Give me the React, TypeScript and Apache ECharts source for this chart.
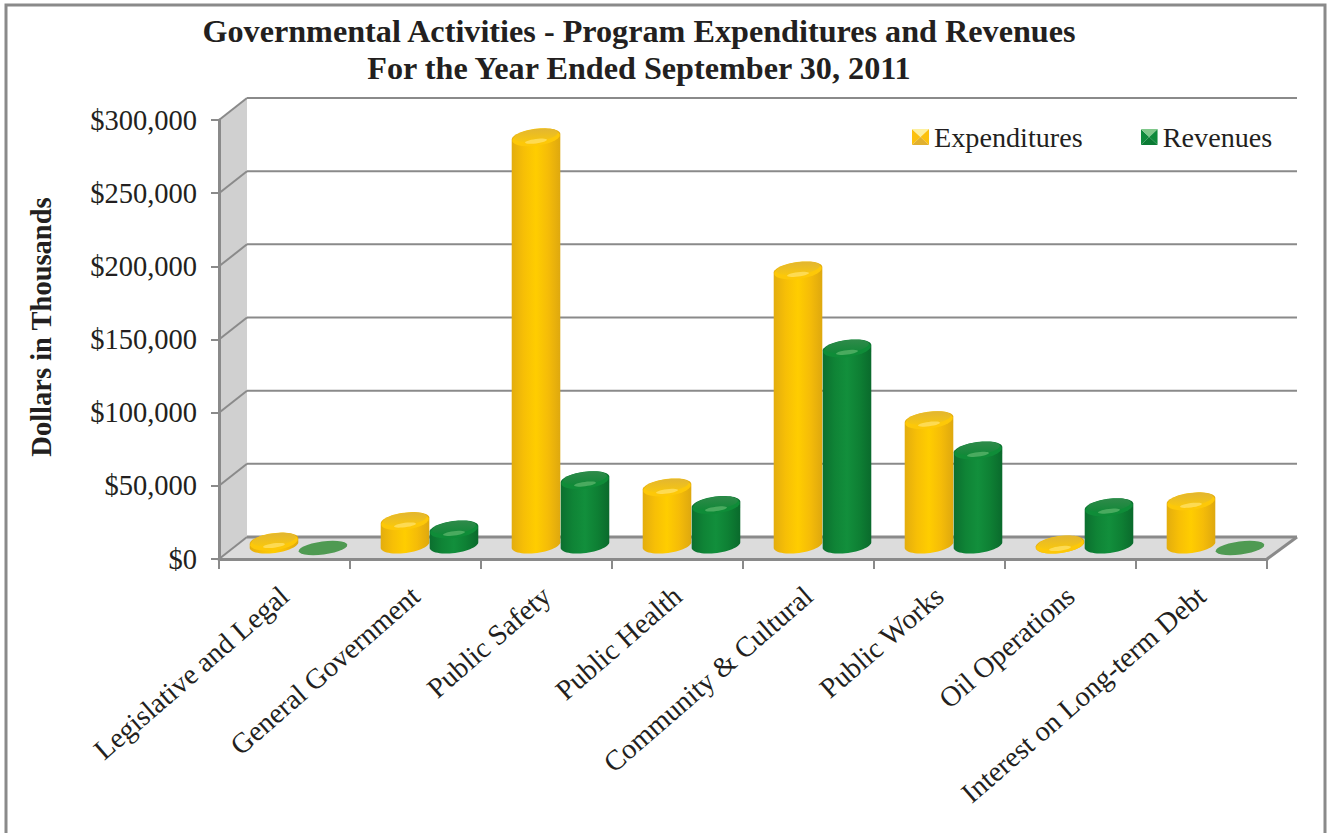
import React, { useEffect, useRef } from "react";
import * as echarts from "echarts";

const categories = ["Legislative and Legal", "General Government", "Public Safety", "Public Health", "Community & Cultural", "Public Works", "Oil Operations", "Interest on Long-term Debt"];
const expenditures = [4700, 18700, 281000, 41700, 190000, 87700, 2700, 32200];
const revenues = [0, 13000, 46700, 29700, 136700, 67000, 28200, 0];
const yTicks = [0, 50000, 100000, 150000, 200000, 250000, 300000];
const titleText = "Governmental Activities - Program Expenditures and Revenues\nFor the Year Ended September 30, 2011";
const FONT = "'Liberation Serif'";
const INK = "#231f20";
const GRID = "#8a8a8a";
const DX = 28, DY = 22;

const ellipse = (cx: number, cy: number, rx: number, ry: number, a0: number, a1: number, rot = -0.13) => {
  const pts: number[][] = [];
  const n = 28;
  for (let i = 0; i <= n; i++) {
    const t = a0 + ((a1 - a0) * i) / n;
    const x = rx * Math.cos(t), y = ry * Math.sin(t);
    pts.push([cx + x * Math.cos(rot) - y * Math.sin(rot), cy + x * Math.sin(rot) + y * Math.cos(rot)]);
  }
  return pts;
};
const hGrad = (stops: string[]) => ({ type: "linear", x: 0, y: 0, x2: 1, y2: 0, colorStops: stops.map((color, i) => ({ offset: i / (stops.length - 1), color })) });
const vGrad = (a: string, b: string) => ({ type: "linear", x: 0, y: 0, x2: 0, y2: 1, colorStops: [{ offset: 0, color: a }, { offset: 1, color: b }] });

const palette = {
  exp: { body: ["#e3ad0e", "#f7bf06", "#ffcd00", "#f5bc08", "#deA80f"], rim: "#fdc808", capA: "#e2b632", capB: "#f8c70e", hi: "#ffe26a", flat: "#e8b820" },
  rev: { body: ["#0b6f2f", "#0f8436", "#128f3c", "#0e8034", "#0a6a2c"], rim: "#0f8c38", capA: "#2f8a4a", capB: "#128838", hi: "#5cb56c", flat: "#4f9a52" },
};

const cylinder = (side: number, p: typeof palette.exp) => (_: any, api: any) => {
  const band = api.size([1, 0])[0];
  const rx = band * 0.187, ry = 8;
  const top = api.coord([api.value(0), api.value(1)]);
  const base = api.coord([api.value(0), 0]);
  const cx = top[0] + DX / 2 + side * rx;
  const yTop = top[1] - DY / 2, yGround = base[1] - DY / 2;
  if (api.value(1) === 0) {
    return { type: "polygon", shape: { points: ellipse(cx, yGround, rx, ry - 1.5, 0, Math.PI * 2) }, style: { fill: p.flat } };
  }
  const yBase = yGround - 3;
  const outline = [...ellipse(cx, yBase, rx, ry, 0, Math.PI), ...ellipse(cx, Math.min(yTop, yBase), rx, ry, Math.PI, Math.PI * 2)];
  return {
    type: "group",
    children: [
      { type: "polygon", shape: { points: outline }, style: { fill: hGrad(p.body) } },
      { type: "polygon", shape: { points: ellipse(cx, yTop + 1, rx * 0.98, ry, 0, Math.PI * 2) }, style: { fill: p.rim } },
      { type: "polygon", shape: { points: ellipse(cx, yTop - 1.5, rx * 0.9, ry * 0.78, 0, Math.PI * 2) }, style: { fill: vGrad(p.capA, p.capB) } },
      { type: "polygon", shape: { points: ellipse(cx, yTop + ry * 0.55, rx * 0.45, 2.2, 0, Math.PI * 2) }, style: { fill: p.hi, opacity: 0.75 } },
    ],
  };
};

const walls = (_: any, api: any) => {
  const v = api.value(1);
  const band = api.size([1, 0])[0];
  const p = api.coord([0, v]);
  const left = p[0] - band / 2;
  const right = left + band * categories.length;
  const y = p[1];
  const line = { stroke: GRID, lineWidth: 2 };
  const children: any[] = [];
  if (v === 0) {
    const yMax = api.coord([0, yTicks[yTicks.length - 1]])[1];
    children.push({ type: "polygon", shape: { points: [[left, yMax], [left + DX, yMax - DY], [left + DX, y - DY], [left, y]] }, style: { fill: "#d0d0d0" } });
    children.push({ type: "polygon", shape: { points: [[left, y], [left + DX, y - DY], [right + DX + 2, y - DY], [right, y]] }, style: { fill: "#dcdcdc" } });
    children.push({ type: "line", shape: { x1: right, y1: y, x2: right + DX + 2, y2: y - DY }, style: { stroke: GRID, lineWidth: 3 } });
  }
  children.push({ type: "line", shape: { x1: left, y1: y, x2: left + DX, y2: y - DY }, style: line });
  children.push({ type: "line", shape: { x1: left + DX, y1: y - DY, x2: right + DX + 2, y2: y - DY }, style: { stroke: GRID, lineWidth: v === 0 ? 3 : 2 } });
  return { type: "group", children };
};

const pyramidIcon = (l: string, t: string, r: string, b: string, w: number, h: number) =>
  "image://data:image/svg+xml;charset=utf-8," + encodeURIComponent(
    `<svg xmlns="http://www.w3.org/2000/svg" width="${w}" height="${h}" viewBox="0 0 ${w} ${h}">` +
    `<polygon points="0,0 ${w / 2},${h / 2} 0,${h}" fill="${l}"/><polygon points="0,0 ${w},0 ${w / 2},${h / 2}" fill="${t}"/>` +
    `<polygon points="${w},0 ${w},${h} ${w / 2},${h / 2}" fill="${r}"/><polygon points="0,${h} ${w},${h} ${w / 2},${h / 2}" fill="${b}"/></svg>`);

export default function App() {
  const ref = useRef<HTMLDivElement>(null);
  useEffect(() => {
    const chart = echarts.init(ref.current!, undefined, { renderer: "svg" });
    chart.setOption({
      animation: false,
      backgroundColor: "#ffffff",
      title: {
        text: titleText, left: 634, top: 7, textAlign: "center",
        textStyle: { fontFamily: FONT, fontWeight: "bold", fontSize: 32.2, lineHeight: 37, color: INK },
      },
      legend: {
        left: 912, top: 123, padding: 0, itemWidth: 17, itemHeight: 16, itemGap: 58,
        textStyle: { fontFamily: FONT, fontSize: 28.2, color: INK },
        data: [
          { name: "Expenditures", icon: pyramidIcon("#fcc10e", "#fdf0a0", "#fcc10e", "#e0b030", 17, 16) },
          { name: "Revenues", icon: pyramidIcon("#0f8a3c", "#7fc88a", "#0f8a3c", "#0b7a34", 17, 16) },
        ],
      },
      grid: { left: 219, right: 61, top: 120, bottom: 274, containLabel: false },
      xAxis: {
        type: "category", data: categories, z: 3,
        axisLine: { lineStyle: { color: GRID, width: 3 } },
        axisTick: { show: true, length: 10, lineStyle: { color: GRID, width: 2 } },
        axisLabel: { interval: 0, rotate: 41, margin: 33, fontFamily: FONT, fontSize: 28.5, color: INK },
      },
      yAxis: {
        type: "value", min: 0, max: 300000, interval: 50000, z: 3,
        axisLine: { show: true, lineStyle: { color: GRID, width: 3 } },
        axisTick: { show: true, length: 8, lineStyle: { color: GRID, width: 2 } },
        splitLine: { show: false },
        axisLabel: { margin: 22, fontFamily: FONT, fontSize: 28.5, color: INK, formatter: (v: number) => "$" + v.toLocaleString("en-US") },
      },
      graphic: [
        { type: "rect", z: 0, silent: true, shape: { x: 6, y: 5, width: 1319, height: 900 }, style: { fill: "none", stroke: GRID, lineWidth: 3 } },
        { type: "text", x: 41, y: 327, rotation: Math.PI / 2, style: { text: "Dollars in Thousands", fontFamily: FONT, fontWeight: "bold", fontSize: 28.5, fill: INK, textAlign: "center", textVerticalAlign: "middle" } },
      ],
      series: [
        { type: "custom", name: "walls", z: 1, silent: true, clip: false, renderItem: walls, encode: { x: 0, y: 1 }, data: yTicks.map((v) => [0, v]) },
        { type: "custom", name: "Expenditures", z: 4, silent: true, clip: false, renderItem: cylinder(-1, palette.exp), encode: { x: 0, y: 1 }, data: expenditures.map((v, i) => [i, v]) },
        { type: "custom", name: "Revenues", z: 4, silent: true, clip: false, renderItem: cylinder(1, palette.rev), encode: { x: 0, y: 1 }, data: revenues.map((v, i) => [i, v]) },
      ],
    });
    return () => chart.dispose();
  }, []);
  return <div ref={ref} style={{ position: "absolute", left: 0, top: 0, width: 1328, height: 833 }} />;
}
